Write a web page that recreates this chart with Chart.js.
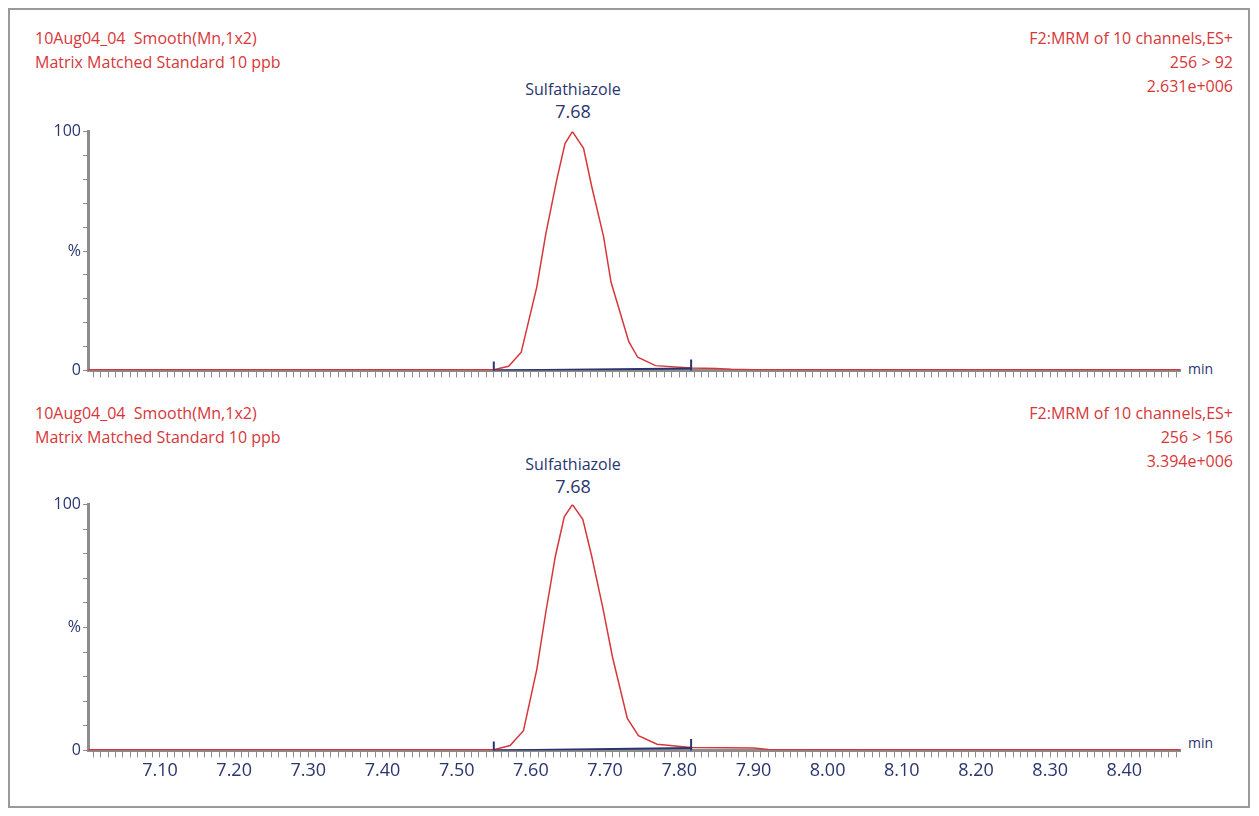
<!DOCTYPE html>
<html><head><meta charset="utf-8">
<script src="https://cdn.jsdelivr.net/npm/chart.js@4"></script>
<style>
body{margin:0;background:#fff;font-family:"Open Sans",sans-serif;}
#frame{position:absolute;left:8px;top:8px;width:1238px;height:796px;border:2px solid #9a9a9a;}
.t{position:absolute;font-size:16px;color:#d6373a;white-space:nowrap;line-height:22px;}
.r{text-align:right;right:26px;}
.c{color:#2a3570;transform:translateX(-50%);text-align:center;}
.box{position:absolute;left:0;width:1240px;}
</style></head><body>
<div id="frame"></div>
<div class="t" style="left:35px;top:27px">10Aug04_04&nbsp; Smooth(Mn,1x2)</div>
<div class="t" style="left:35px;top:51px">Matrix Matched Standard 10 ppb</div>
<div class="t r" style="top:27px">F2:MRM of 10 channels,ES+</div>
<div class="t r" style="top:51px">256 &gt; 92</div>
<div class="t r" style="top:75px">2.631e+006</div>
<div class="t c" style="left:573px;top:78px">Sulfathiazole</div>
<div class="t c" style="left:573px;top:100px;font-size:18px">7.68</div>
<div class="t" style="left:1188px;top:358px;color:#2a3570;font-size:14px">min</div>

<div class="t" style="left:35px;top:402px">10Aug04_04&nbsp; Smooth(Mn,1x2)</div>
<div class="t" style="left:35px;top:426px">Matrix Matched Standard 10 ppb</div>
<div class="t r" style="top:402px">F2:MRM of 10 channels,ES+</div>
<div class="t r" style="top:426px">256 &gt; 156</div>
<div class="t r" style="top:450px">3.394e+006</div>
<div class="t c" style="left:573px;top:453px">Sulfathiazole</div>
<div class="t c" style="left:573px;top:475px;font-size:18px">7.68</div>
<div class="t" style="left:1188px;top:732px;color:#2a3570;font-size:14px">min</div>

<div class="box" style="top:120px;height:262px"><canvas id="c1"></canvas></div>
<div class="box" style="top:493px;height:292px"><canvas id="c2"></canvas></div>
<script>
// retention time (min) and relative intensity (%)
const time1 = [7.003, 7.10, 7.20, 7.30, 7.40, 7.50, 7.55, 7.570, 7.587, 7.608, 7.620, 7.635, 7.646, 7.656, 7.671, 7.682, 7.698, 7.708, 7.732, 7.744, 7.768, 7.816, 7.85, 7.87, 7.90, 8.10, 8.30, 8.475];
const ms92  = [0.3, 0.3, 0.3, 0.3, 0.3, 0.3, 0.3, 1.7, 7.6, 35, 57, 80, 95, 100, 93, 77, 56, 37, 12, 5.5, 2, 1, 0.8, 0.5, 0.3, 0.3, 0.3, 0.3];
const time2 = [7.003, 7.10, 7.20, 7.30, 7.40, 7.50, 7.55, 7.572, 7.590, 7.608, 7.620, 7.633, 7.645, 7.656, 7.670, 7.682, 7.697, 7.710, 7.730, 7.745, 7.770, 7.816, 7.86, 7.90, 7.92, 8.10, 8.30, 8.475];
const ms156 = [0.3, 0.3, 0.3, 0.3, 0.3, 0.3, 0.3, 2, 8, 33, 56, 79, 95, 100, 94, 79, 58, 38, 13, 6, 2.5, 1.2, 1.1, 1, 0.4, 0.3, 0.3, 0.3];
const integ1 = [[7.55, 0], [7.816, 0.8]];
const integ2 = [[7.55, 0], [7.816, 1.0]];
const xLabels = ['7.10','7.20','7.30','7.40','7.50','7.60','7.70','7.80','7.90','8.00','8.10','8.20','8.30','8.40'];

const red = '#d6373a', navy = '#2a3570', grey = '#8c8c8c';

function makeChart(id, t, v, integ, showLabels) {
  const pts = t.map((x, i) => ({x: x, y: v[i]}));
  const base = integ.map(p => ({x: p[0], y: p[1]}));
  return new Chart(document.getElementById(id), {
    type: 'line',
    data: {datasets: [
      {data: base, borderColor: navy, borderWidth: 2, pointStyle: 'line', rotation: 90,
       pointRadius: 9, pointBorderColor: navy, pointBorderWidth: 2},
      {data: pts, borderColor: red, borderWidth: 1.5, pointRadius: 0, tension: 0}
    ]},
    options: {
      responsive: true, maintainAspectRatio: false, animation: false,
      layout: {padding: {top: 10, right: 60}},
      plugins: {legend: {display: false}, tooltip: {enabled: false}},
      scales: {
        x: {type: 'linear', min: 7.003, max: 8.475,
          afterBuildTicks: s => { const a = []; for (let i = 701; i <= 847; i++) a.push({value: i / 100}); s.ticks = a; },
          grid: {drawOnChartArea: false, tickLength: 7, color: grey, tickWidth: 1},
          border: {color: grey, width: 3},
          ticks: {display: showLabels, autoSkip: false, maxRotation: 0, color: navy,
            font: {size: 18, family: 'Open Sans'},
            callback: v => { const s = v.toFixed(2); return xLabels.includes(s) ? s : ''; }}
        },
        y: {min: 0, max: 100,
          afterFit: s => { s.width = 88; },
          afterBuildTicks: s => { const a = []; for (let i = 0; i <= 100; i += 10) a.push({value: i}); s.ticks = a; },
          grid: {drawOnChartArea: false, tickLength: 5, color: grey},
          border: {color: grey, width: 3},
          ticks: {autoSkip: false, color: navy, font: {size: 16, family: 'Open Sans'}, padding: 2,
            callback: v => v === 0 ? '0' : v === 100 ? '100' : v === 50 ? '%' : ''}
        }
      }
    }
  });
}
makeChart('c1', time1, ms92, integ1, false);
makeChart('c2', time2, ms156, integ2, true);
</script>
</body></html>
